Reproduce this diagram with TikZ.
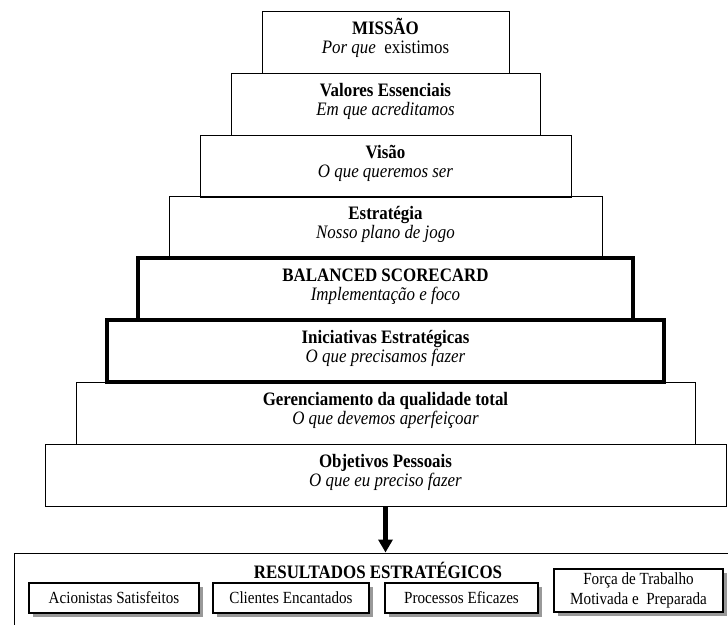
\documentclass[tikz,border=0pt]{standalone}
\usepackage{fontspec}
\setmainfont{Liberation Serif}[FakeStretch=0.89]
\usetikzlibrary{arrows.meta,shadows}

\begin{document}
\begin{tikzpicture}[x=1pt,y=-1pt,
  level/.style={draw,line width=1pt,inner sep=0pt,minimum height=62pt,
    text height=30pt,text depth=8pt,
    align=center,font=\fontsize{19}{19}\selectfont},
  keylevel/.style={level,line width=4.5pt},
  resultbox/.style={draw,line width=1.5pt,fill=white,inner sep=0pt,
    minimum height=30pt,align=center,font=\fontsize{17}{20}\selectfont,
    drop shadow={shadow xshift=4pt,shadow yshift=-4pt,fill=black!40,opacity=1}}]
\path[use as bounding box] (0,0) rectangle (728,624);
\clip (0,0) rectangle (728,624);
\node[level,minimum width=247pt] (missao) at (385.5,42) {\textbf{MISSÃO}\\\textit{Por que}\ \ existimos};
\node[level,minimum width=309pt] (valores) at (385.5,104) {\textbf{Valores Essenciais}\\\textit{Em que acreditamos}};
\node[level,minimum width=371pt] (visao) at (385.5,166) {\textbf{Visão}\\\textit{O que queremos ser}};
\node[level,minimum width=433pt] (estrategia) at (385.5,227) {\textbf{Estratégia}\\\textit{Nosso plano de jogo}};
\node[level,minimum width=619pt] (gerenciamento) at (385.5,413) {\textbf{Gerenciamento da qualidade total}\\\textit{O que devemos aperfeiçoar}};
\node[level,minimum width=681pt] (objetivos) at (385.5,475.5) {\textbf{Objetivos Pessoais}\\\textit{O que eu preciso fazer}};
\node[keylevel,minimum width=495pt] (balanced) at (385.5,289) {\textbf{BALANCED SCORECARD}\\\textit{Implementação e foco}};
\node[keylevel,minimum width=557pt] (iniciativas) at (385.5,351) {\textbf{Iniciativas Estratégicas}\\\textit{O que precisamos fazer}};
\node[draw,line width=1pt,inner sep=0pt,minimum width=731pt,minimum height=87pt] (resultados) at (379.5,596.5) {};
\node[anchor=base,inner sep=0pt,font=\fontsize{19}{20}\selectfont\bfseries] (titulo) at (378,578) {RESULTADOS ESTRATÉGICOS};
\node[resultbox,minimum width=170pt] (acionistas) at (114,598) {Acionistas Satisfeitos};
\node[resultbox,minimum width=156pt] (clientes) at (291,598) {Clientes Encantados};
\node[resultbox,minimum width=153pt] (processos) at (461.5,598) {Processos Eficazes};
\node[resultbox,minimum width=169pt,minimum height=43pt] (forca) at (638.5,590.5) {Força de Trabalho\\Motivada e\ \ Preparada};
\draw[line width=5pt,-{Triangle[length=13pt,width=14pt]}] (objetivos.south) -- (objetivos.south |- resultados.north);
\end{tikzpicture}
\end{document}
